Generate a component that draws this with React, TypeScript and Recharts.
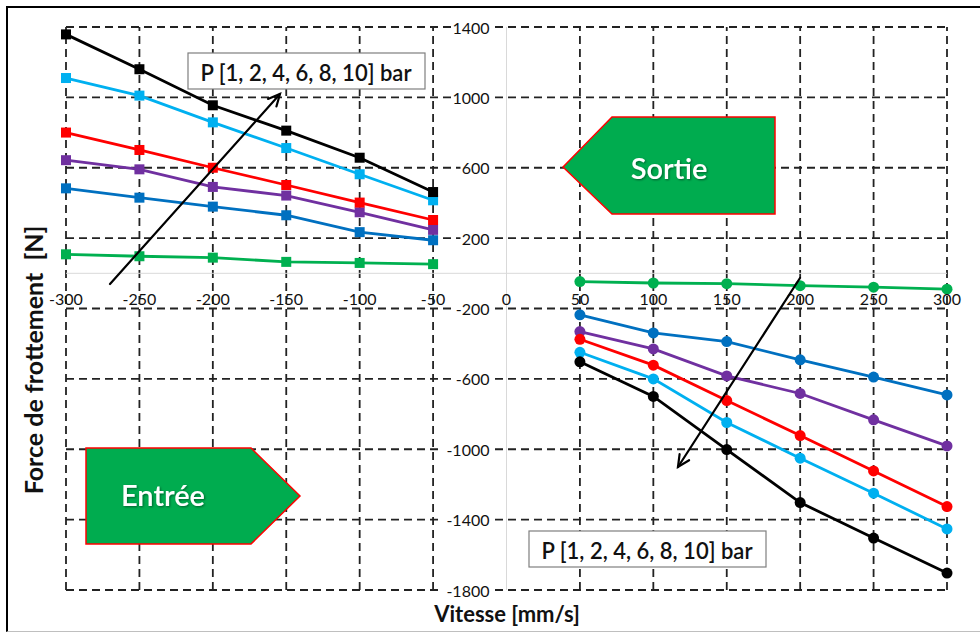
import React from "react";
import { LineChart, Line, XAxis, YAxis, ReferenceLine } from "recharts";

// vitesse [mm/s]
const SPEED_IN = [-300, -250, -200, -150, -100, -50];
const SPEED_OUT = [50, 100, 150, 200, 250, 300];

// pression 1, 2, 4, 6, 8, 10 bar
const PRESSURES = ["1 bar", "2 bar", "4 bar", "6 bar", "8 bar", "10 bar"];
const COLORS = ["#00B050", "#0070C0", "#7030A0", "#FF0000", "#00B0F0", "#000000"];

// force de frottement [N], entrée (vitesse négative)
const IN_1 = [108, 97, 89, 65, 59, 52];
const IN_2 = [483, 430, 379, 330, 234, 188];
const IN_4 = [643, 591, 491, 442, 347, 247];
const IN_6 = [800, 701, 600, 502, 402, 303];
const IN_8 = [1110, 1010, 858, 712, 563, 415];
const IN_10 = [1358, 1160, 955, 811, 657, 462];

// force de frottement [N], sortie (vitesse positive)
const OUT_1 = [-47, -55, -59, -70, -79, -90];
const OUT_2 = [-236, -339, -388, -492, -590, -691];
const OUT_4 = [-331, -430, -583, -683, -833, -981];
const OUT_6 = [-375, -522, -723, -922, -1123, -1326];
const OUT_8 = [-449, -600, -848, -1051, -1250, -1453];
const OUT_10 = [-503, -700, -1002, -1303, -1505, -1704];

const X_TICKS = [-300, -250, -200, -150, -100, -50, 0, 50, 100, 150, 200, 250, 300];
const GRID_X = X_TICKS.filter((v) => v !== 0);
const Y_TICKS = [1400, 1000, 600, 200, -200, -600, -1000, -1400, -1800];

const W = 980;
const H = 633;
// axes are 1px wide/high (0 would make recharts skip the ticks)
const M = { top: 27, right: 33, bottom: 42, left: 65 };
const PLOT_LEFT = 66;
const PLOT_W = W - PLOT_LEFT - M.right;
const PLOT_H = H - M.top - 43;
const ZERO_X = PLOT_LEFT + PLOT_W * 0.5;
const ZERO_Y = M.top + (PLOT_H * 1400) / 3200;

const FONT = "Lato, 'Open Sans', sans-serif";

const toRows = (xs: number[], ys: number[]) => xs.map((x, i) => ({ x, y: ys[i] }));
const inSeries = [IN_1, IN_2, IN_4, IN_6, IN_8, IN_10].map((ys) => toRows(SPEED_IN, ys));
const outSeries = [OUT_1, OUT_2, OUT_4, OUT_6, OUT_8, OUT_10].map((ys) => toRows(SPEED_OUT, ys));

const squareDot = (color: string) => (p: any) => (
  <rect key={`sq-${p.index}`} x={p.cx - 5} y={p.cy - 5} width={10} height={10} fill={color} />
);
const roundDot = (color: string) => (p: any) => (
  <circle key={`ci-${p.index}`} cx={p.cx} cy={p.cy} r={5.5} fill={color} />
);

const XTick = ({ x, payload }: any) => (
  <text
    x={x}
    y={ZERO_Y + 25}
    textAnchor="middle"
    dominantBaseline="central"
    fontSize={16}
    fontFamily={FONT}
    fill="#111"
  >
    {payload.value}
  </text>
);

const YTick = ({ y, payload }: any) => {
  const label = String(payload.value);
  const w = label.length * 9 + 6;
  return (
    <g>
      <rect x={ZERO_X - 13 - w} y={y - 8} width={w} height={16} fill="#fff" />
      <text
        x={ZERO_X - 17}
        y={y}
        textAnchor="end"
        dominantBaseline="central"
        fontSize={16}
        fontFamily={FONT}
        fill="#111"
      >
        {label}
      </text>
    </g>
  );
};

const Arrow = ({ x1, y1, x2, y2 }: { x1: number; y1: number; x2: number; y2: number }) => {
  const a = Math.atan2(y2 - y1, x2 - x1);
  const len = 13;
  const spread = 0.45;
  const p1 = [x2 - len * Math.cos(a - spread), y2 - len * Math.sin(a - spread)];
  const p2 = [x2 - len * Math.cos(a + spread), y2 - len * Math.sin(a + spread)];
  return (
    <g stroke="#000" strokeWidth={2.2} fill="none" strokeLinecap="round">
      <line x1={x1} y1={y1} x2={x2} y2={y2} />
      <polyline points={`${p1[0]},${p1[1]} ${x2},${y2} ${p2[0]},${p2[1]}`} />
    </g>
  );
};

const Overlay = () => (
  <svg width={W} height={H} style={{ position: "absolute", left: 0, top: 0, pointerEvents: "none" }}>
    <defs>
      <filter id="txtShadow" x="-20%" y="-20%" width="140%" height="140%">
        <feDropShadow dx="1" dy="1" stdDeviation="1" floodColor="#000" floodOpacity="0.45" />
      </filter>
    </defs>

    {/* légende en haut */}
    <rect x={188} y={53} width={237} height={36} fill="#fff" stroke="#7f7f7f" strokeWidth={1.2} />
    <text x={306} y={72} textAnchor="middle" dominantBaseline="central" fontSize={22} fontFamily={FONT} fontWeight={600} fill="#111">
      P [1, 2, 4, 6, 8, 10] bar
    </text>
    <Arrow x1={110} y1={284} x2={280} y2={94} />

    {/* Sortie */}
    <polygon points="563,167 612,117 775,117 775,214 612,214" fill="#00AC4F" stroke="#FF0000" strokeWidth={1.5} />
    <text x={669} y={167} textAnchor="middle" dominantBaseline="central" fontSize={29} fontFamily={FONT} fontWeight={600} fill="#fff" filter="url(#txtShadow)">
      Sortie
    </text>

    {/* Entrée */}
    <polygon points="86,448 251,448 300,496 251,544 86,544" fill="#00AC4F" stroke="#FF0000" strokeWidth={1.5} />
    <text x={163} y={494} textAnchor="middle" dominantBaseline="central" fontSize={29} fontFamily={FONT} fontWeight={600} fill="#fff" filter="url(#txtShadow)">
      Entrée
    </text>

    {/* légende en bas */}
    <Arrow x1={800} y1={278} x2={678} y2={467} />
    <rect x={529} y={531} width={237} height={36} fill="#fff" stroke="#7f7f7f" strokeWidth={1.2} />
    <text x={647} y={550} textAnchor="middle" dominantBaseline="central" fontSize={22} fontFamily={FONT} fontWeight={600} fill="#111">
      P [1, 2, 4, 6, 8, 10] bar
    </text>

    {/* titres des axes */}
    <text
      x={33}
      y={360}
      transform="rotate(-90 33 360)"
      textAnchor="middle"
      dominantBaseline="central"
      fontSize={25}
      fontFamily={FONT}
      fontWeight={700}
      fill="#111"
      style={{ whiteSpace: "pre" }}
    >
      Force de frottement  [N]
    </text>
    <text x={507} y={613} textAnchor="middle" dominantBaseline="central" fontSize={22} fontFamily={FONT} fontWeight={700} fill="#111">
      Vitesse [mm/s]
    </text>
  </svg>
);

export default function App() {
  return (
    <div
      style={{
        position: "absolute",
        left: 0,
        top: 0,
        width: W,
        height: H,
        background: "#fff",
        overflow: "hidden",
      }}
    >
      <div
        style={{
          position: "absolute",
          left: 6,
          top: 6,
          width: W,
          height: 626,
          borderTop: "2px solid #000",
          borderLeft: "2px solid #000",
          borderBottom: "1px solid #bfbfbf",
          boxSizing: "border-box",
        }}
      />
      <div style={{ position: "absolute", left: 0, top: 0 }}>
        <LineChart width={W} height={H} margin={M}>
          {GRID_X.map((v) => (
            <ReferenceLine key={`gx${v}`} x={v} stroke="#222" strokeWidth={1.8} strokeDasharray="8 5" />
          ))}
          {Y_TICKS.map((v) => (
            <ReferenceLine key={`gy${v}`} y={v} stroke="#222" strokeWidth={1.8} strokeDasharray="8 5" />
          ))}
          <ReferenceLine x={0} stroke="#d9d9d9" strokeWidth={1} />
          <ReferenceLine y={0} stroke="#d9d9d9" strokeWidth={1} />
          <XAxis
            type="number"
            dataKey="x"
            domain={[-300, 300]}
            ticks={X_TICKS}
            interval={0}
            height={1}
            axisLine={false}
            tickLine={false}
            tick={<XTick />}
            allowDuplicatedCategory={false}
          />
          <YAxis
            type="number"
            dataKey="y"
            domain={[-1800, 1400]}
            ticks={Y_TICKS}
            interval={0}
            width={1}
            axisLine={false}
            tickLine={false}
            tick={<YTick />}
          />
          {inSeries.map((rows, i) => (
            <Line
              key={`in-${PRESSURES[i]}`}
              data={rows}
              dataKey="y"
              name={`Entrée ${PRESSURES[i]}`}
              type="linear"
              stroke={COLORS[i]}
              strokeWidth={2.8}
              dot={squareDot(COLORS[i])}
              isAnimationActive={false}
            />
          ))}
          {outSeries.map((rows, i) => (
            <Line
              key={`out-${PRESSURES[i]}`}
              data={rows}
              dataKey="y"
              name={`Sortie ${PRESSURES[i]}`}
              type="linear"
              stroke={COLORS[i]}
              strokeWidth={2.8}
              dot={roundDot(COLORS[i])}
              isAnimationActive={false}
            />
          ))}
        </LineChart>
      </div>
      <Overlay />
    </div>
  );
}
